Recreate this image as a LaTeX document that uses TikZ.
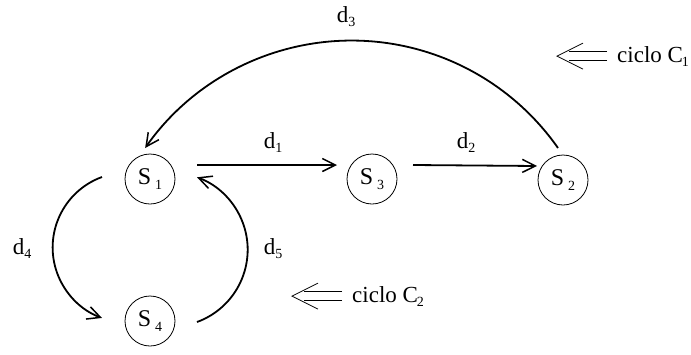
\documentclass[tikz,border=0pt]{standalone}
\usepackage{fontspec}
\setmainfont{Liberation Serif}
\usetikzlibrary{arrows.meta,calc}
\newcommand\mysub[1]{\raisebox{-0.4ex}{\fontsize{14}{14}\selectfont #1}}
\tikzset{
  state/.style={circle,draw,line width=0.8pt,minimum size=50pt,inner sep=0pt,font=\fontsize{24}{26}\selectfont},
  lbl/.style={anchor=base,inner sep=0pt,font=\fontsize{23}{25}\selectfont},
  conn/.style={line width=1.8pt,-{Straight Barb[length=13pt,width=13pt,line width=1.5pt]}},
  implies/.style={line width=0.8pt}
}
\begin{document}
\begin{tikzpicture}[x=1pt,y=1pt]
\useasboundingbox (0,0) rectangle (691,-354);
\node[state] (s1) at (150,-179) {S\,\mysub{1}};
\node[state] (s3) at (372,-179) {S\,\mysub{3}};
\node[state] (s2) at (563,-180) {S\,\mysub{2}};
\node[state] (s4) at (150,-321) {S\,\mysub{4}};
% straight connectors
\draw[conn] ($(s1)+(47,14)$) -- ($(s3)+(-35,14)$);
\draw[conn] ($(s3)+(41,14)$) -- ($(s2)+(-26,14)$);
% arcs
\draw[conn] ($(s2)+(-5,32)$) arc[start angle=35,end angle=145,radius=252];
\draw[conn] ($(s1)+(-48,2)$) arc[start angle=110,end angle=250,radius=75];
\draw[conn] ($(s4)+(47,-1)$) arc[start angle=-70,end angle=70,radius=77];
% labels
\node[lbl] (l1) at (273,-148) {d\mysub{1}};
\node[lbl] (l2) at (466,-148) {d\mysub{2}};
\node[lbl] (l3) at (346,-22) {d\mysub{3}};
\node[lbl] (l4) at (22,-254) {d\mysub{4}};
\node[lbl] (l5) at (273,-254) {d\mysub{5}};
% cycle notes
\node[lbl,anchor=base west] (c1) at (617,-62) {ciclo C\kern-1pt\mysub{1}};
\node[lbl,anchor=base west] (c2) at (352,-302) {ciclo C\kern-1pt\mysub{2}};
\coordinate (a1) at ($(c1.west)+(-10,0)$);
\coordinate (a2) at ($(c2.west)+(-10,0)$);
\foreach \a in {a1,a2}{
  \draw[implies] (\a)++(0,4.5) -- ++(-38,0);
  \draw[implies] (\a)++(0,-4.5) -- ++(-38,0);
  \draw[implies] (\a)++(-24,13) -- ++(-26,-13) -- ++(26,-13);
}
\end{tikzpicture}
\end{document}
